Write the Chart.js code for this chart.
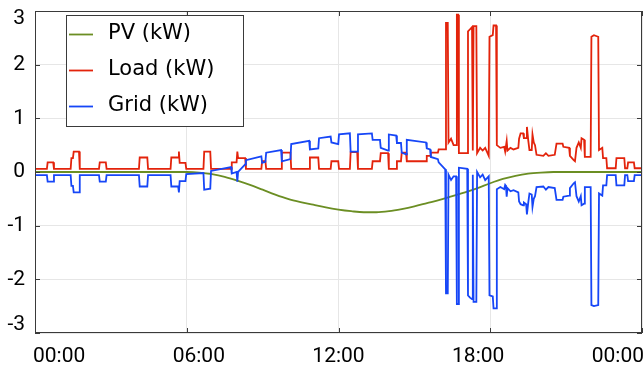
<!DOCTYPE html>
<html>
<head>
<meta charset="utf-8">
<script src="https://cdn.jsdelivr.net/npm/chart.js@4.4.0/dist/chart.umd.min.js"></script>
<style>
  html, body { margin: 0; padding: 0; background: #fff; }
  #wrap { width: 644px; height: 374px; }
</style>
</head>
<body>
<div id="wrap"><canvas id="chart" width="644" height="374"></canvas></div>
<script>
// axis ticks (x in hours of the day)
const xTicks = [0, 6, 12, 18, 24];
const xTickLabels = ['00:00', '06:00', '12:00', '18:00', '00:00'];
const yTicks = [-3, -2, -1, 0, 1, 2, 3];

// PV (kW)
const pvT = [0, 6, 6.5, 7, 7.5, 8, 8.5, 9, 9.5, 10, 10.5, 11, 11.5, 12, 12.5, 13, 13.5, 14, 14.5, 15, 15.5, 16, 16.5, 17, 17.5, 18, 18.5, 19, 19.5, 20, 20.5, 24];
const pvV = [0, 0, -0.01, -0.04, -0.09, -0.16, -0.24, -0.33, -0.42, -0.5, -0.56, -0.61, -0.66, -0.7, -0.73, -0.75, -0.75, -0.73, -0.69, -0.64, -0.58, -0.52, -0.45, -0.38, -0.3, -0.21, -0.13, -0.07, -0.03, -0.01, 0, 0];

// Load and Grid (kW), sampled at the same change points
const loadT = [
  0, 0.47, 0.5, 0.72, 0.75,
  1.41, 1.44, 1.5, 1.53, 1.74, 1.77,
  2.53, 2.56, 2.8, 2.83,
  4.11, 4.14, 4.44, 4.47,
  5.36, 5.39, 5.66, 5.69, 5.72, 5.95, 5.98,
  6.66, 6.69, 6.93, 6.96,
  7.75, 7.78, 7.97, 8.0, 8.03, 8.31, 8.34,
  8.95, 8.98, 9.11, 9.14,
  9.73, 9.76, 10.1, 10.13,
  10.84, 10.87, 11.2, 11.23,
  11.69, 11.72, 11.99, 12.02,
  12.45, 12.48, 12.74, 12.77,
  13.32, 13.35, 13.64, 13.67, 13.96, 13.99,
  14.28, 14.31, 14.47, 14.5, 14.67, 14.7,
  15.46, 15.49, 15.62, 15.65, 15.93, 15.96, 16.22,
  16.25, 16.32, 16.35, 16.45, 16.55, 16.65,
  16.68, 16.73, 16.76, 17.09,
  17.12, 17.2, 17.28, 17.31, 17.34, 17.45, 17.48,
  17.6, 17.7, 17.8, 17.94,
  17.97, 18.1, 18.13, 18.23, 18.26,
  18.4, 18.55, 18.59, 18.62, 18.65, 18.68, 18.8, 18.92,
  19.11, 19.14, 19.2, 19.3, 19.33, 19.42, 19.45, 19.5, 19.55, 19.64, 19.67, 19.72, 19.77, 19.83,
  20.1, 20.2, 20.3, 20.55, 20.62, 20.86, 20.89, 21.12, 21.15, 21.3, 21.35, 21.41, 21.5, 21.58, 21.61, 21.71, 21.74, 21.97,
  22.0, 22.1, 22.27, 22.3, 22.43, 22.46, 22.59, 22.62, 22.96, 22.99, 23.3, 23.33, 23.42, 23.45, 23.68, 23.71, 24
];
const loadV = [
  0.06, 0.06, 0.18, 0.18, 0.06,
  0.06, 0.26, 0.26, 0.38, 0.38, 0.06,
  0.06, 0.18, 0.18, 0.06,
  0.06, 0.27, 0.27, 0.06,
  0.06, 0.27, 0.27, 0.38, 0.17, 0.17, 0.06,
  0.06, 0.38, 0.38, 0.06,
  0.06, 0.18, 0.18, 0.38, 0.26, 0.26, 0.06,
  0.06, 0.2, 0.2, 0.06,
  0.06, 0.36, 0.36, 0.06,
  0.06, 0.27, 0.27, 0.06,
  0.06, 0.2, 0.2, 0.06,
  0.06, 0.37, 0.37, 0.06,
  0.06, 0.2, 0.2, 0.35, 0.35, 0.06,
  0.06, 0.2, 0.2, 0.36, 0.36, 0.2,
  0.2, 0.3, 0.3, 0.36, 0.36, 0.42, 0.42,
  2.78, 2.78, 0.55, 0.62, 0.5, 0.5,
  2.93, 2.93, 0.35, 0.35,
  2.62, 2.66, 2.7, 0.4, 2.72, 2.72, 0.35,
  0.45, 0.4, 0.45, 0.3,
  2.52, 2.55, 2.73, 2.73, 0.5,
  0.45, 0.47, 0.38, 0.38, 0.58, 0.4, 0.45, 0.42,
  0.45, 0.62, 0.72, 0.72, 0.63, 0.63, 0.84, 0.6, 0.41, 0.41, 0.7, 0.55, 0.5, 0.32,
  0.3, 0.35, 0.3, 0.32, 0.53, 0.53, 0.47, 0.45, 0.3, 0.22, 0.2, 0.45, 0.55, 0.45, 0.63, 0.6, 0.28, 0.28,
  2.52, 2.55, 2.52, 0.41, 0.45, 0.26, 0.26, 0.07, 0.07, 0.26, 0.26, 0.07, 0.07, 0.18, 0.18, 0.07, 0.07
];
const gridV = [
  -0.06, -0.06, -0.18, -0.18, -0.06,
  -0.06, -0.26, -0.26, -0.38, -0.38, -0.06,
  -0.06, -0.18, -0.18, -0.06,
  -0.06, -0.27, -0.27, -0.06,
  -0.06, -0.27, -0.27, -0.38, -0.17, -0.17, -0.04,
  -0.02, -0.33, -0.31, 0.02,
  0.09, -0.03, 0.0, -0.18, 0.0, 0.14, 0.22,
  0.29, 0.17, 0.19, 0.36,
  0.41, 0.2, 0.24, 0.52,
  0.58, 0.42, 0.44, 0.63,
  0.66, 0.55, 0.52, 0.7,
  0.72, 0.38, 0.38, 0.7,
  0.72, 0.6, 0.6, 0.45, 0.4, 0.7,
  0.68, 0.54, 0.54, 0.36, 0.33, 0.6,
  0.55, 0.44, 0.42, 0.28, 0.24, 0.18, 0.05,
  -2.26, -2.26, -0.05, -0.15, -0.08, -0.08,
  -2.46, -2.46, 0.08, 0.06,
  -2.3, -2.34, -2.37, -0.05, -2.42, -2.42, 0.0,
  -0.1, -0.05, -0.15, -0.08,
  -2.3, -2.32, -2.54, -2.54, -0.32,
  -0.28, -0.32, -0.24, -0.26, -0.46, -0.3, -0.36, -0.34,
  -0.38, -0.55, -0.6, -0.62, -0.57, -0.6, -0.79, -0.58, -0.4, -0.42, -0.65, -0.5, -0.45, -0.28,
  -0.27, -0.33, -0.28, -0.3, -0.52, -0.52, -0.46, -0.44, -0.3, -0.21, -0.19, -0.45, -0.55, -0.45, -0.62, -0.59, -0.28, -0.28,
  -2.48, -2.5, -2.48, -0.4, -0.44, -0.25, -0.25, -0.06, -0.06, -0.25, -0.25, -0.06, -0.06, -0.17, -0.17, -0.06, -0.06
];

const toPoints = (ts, vs) => ts.map((t, i) => ({ x: t, y: vs[i] }));

const tickFont = '21px Roboto';
const legendFont = '21px "DejaVu Sans"';
const frameColor = '#3a3a3a';
const lineW = 1.8;

// box, inward tick marks and tick labels, drawn by hand like the original
const framePlugin = {
  id: 'frame',
  afterDatasetsDraw(chart) {
    const { ctx, chartArea: a, scales } = chart;
    ctx.save();
    ctx.strokeStyle = frameColor;
    ctx.lineWidth = 1;
    ctx.strokeRect(a.left + 0.5, a.top + 0.5, a.right - a.left - 1, a.bottom - a.top - 1);

    ctx.beginPath();
    xTicks.forEach(v => {
      const x = Math.round(scales.x.getPixelForValue(v)) + 0.5;
      ctx.moveTo(x, a.bottom); ctx.lineTo(x, a.bottom - 5);
      ctx.moveTo(x, a.top); ctx.lineTo(x, a.top + 5);
    });
    yTicks.forEach(v => {
      const y = Math.round(scales.y.getPixelForValue(v)) + 0.5;
      ctx.moveTo(a.left, y); ctx.lineTo(a.left + 5, y);
      ctx.moveTo(a.right, y); ctx.lineTo(a.right - 5, y);
    });
    ctx.stroke();

    // x labels are spread across the full axis width
    ctx.fillStyle = '#000';
    ctx.font = tickFont;
    ctx.textBaseline = 'middle';
    ctx.textAlign = 'center';
    const w0 = ctx.measureText(xTickLabels[0]).width;
    const wN = ctx.measureText(xTickLabels[xTickLabels.length - 1]).width;
    const c0 = a.left - 2 + w0 / 2;
    const cN = a.right + 2 - wN / 2;
    xTickLabels.forEach((lab, i) => {
      const cx = c0 + (cN - c0) * i / (xTickLabels.length - 1);
      ctx.fillText(lab, cx, 357);
    });

    // y labels, end ones pulled inside the box
    ctx.textAlign = 'right';
    yTicks.forEach(v => {
      let y = scales.y.getPixelForValue(v);
      y = Math.min(Math.max(y, a.top + 8), a.bottom - 8);
      ctx.fillText(String(v), 25, y);
    });
    ctx.restore();
  },
  afterDraw(chart) {
    const { ctx } = chart;
    const box = { x: 66, y: 15, w: 177, h: 111 };
    ctx.save();
    ctx.fillStyle = '#fff';
    ctx.fillRect(box.x, box.y, box.w, box.h);
    ctx.strokeStyle = frameColor;
    ctx.lineWidth = 1;
    ctx.strokeRect(box.x + 0.5, box.y + 0.5, box.w, box.h);
    ctx.font = legendFont;
    ctx.textBaseline = 'middle';
    ctx.textAlign = 'left';
    chart.data.datasets.forEach((ds, i) => {
      const y = box.y + 19 + i * 36;
      ctx.strokeStyle = ds.borderColor;
      ctx.lineWidth = lineW;
      ctx.beginPath();
      ctx.moveTo(box.x + 3, y + 0.5);
      ctx.lineTo(box.x + 27, y + 0.5);
      ctx.stroke();
      ctx.fillStyle = '#000';
      ctx.fillText(ds.label, box.x + 42, y);
    });
    ctx.restore();
  }
};

new Chart(document.getElementById('chart'), {
  type: 'line',
  data: {
    datasets: [
      { label: 'PV (kW)', data: toPoints(pvT, pvV), borderColor: '#6b8e23', borderWidth: lineW,
        pointRadius: 0, cubicInterpolationMode: 'monotone', order: 2 },
      { label: 'Load (kW)', data: toPoints(loadT, loadV), borderColor: '#e3230b', borderWidth: lineW,
        pointRadius: 0, order: 1 },
      { label: 'Grid (kW)', data: toPoints(loadT, gridV), borderColor: '#1646f7', borderWidth: lineW,
        pointRadius: 0, order: 0 }
    ]
  },
  options: {
    responsive: false,
    animation: false,
    devicePixelRatio: 1,
    layout: { padding: { left: 35, top: 11, right: 2, bottom: 41 } },
    plugins: { legend: { display: false }, tooltip: { enabled: false } },
    scales: {
      x: {
        type: 'linear', min: 0, max: 24,
        afterBuildTicks: s => { s.ticks = xTicks.map(v => ({ value: v })); },
        afterFit: s => { s.height = 0; },
        ticks: { display: false },
        grid: { color: '#e6e6e6', drawTicks: false },
        border: { display: false }
      },
      y: {
        type: 'linear', min: -3, max: 3,
        afterBuildTicks: s => { s.ticks = yTicks.map(v => ({ value: v })); },
        afterFit: s => { s.width = 0; },
        ticks: { display: false },
        grid: { color: '#e6e6e6', drawTicks: false },
        border: { display: false }
      }
    }
  },
  plugins: [framePlugin]
});
</script>
</body>
</html>
